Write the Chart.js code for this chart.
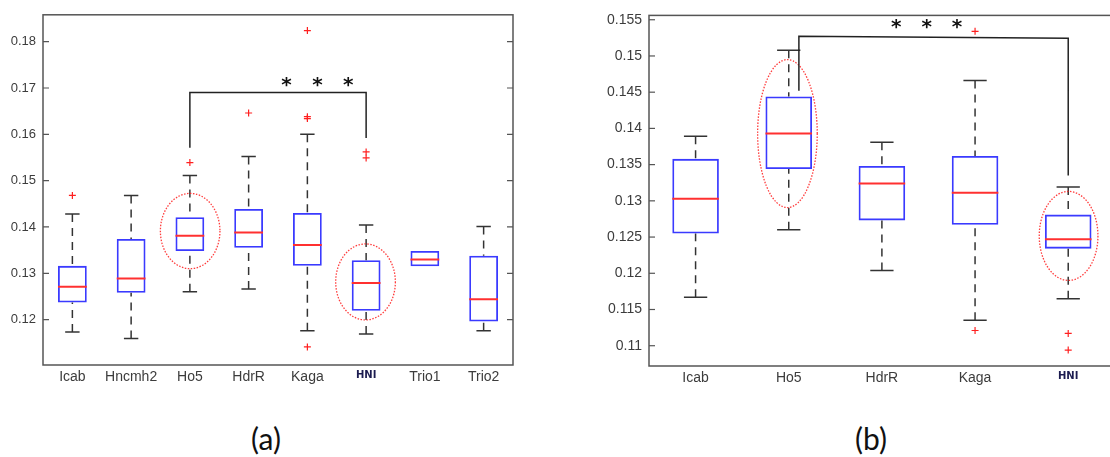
<!DOCTYPE html>
<html>
<head>
<meta charset="utf-8">
<script src="https://cdn.jsdelivr.net/npm/chart.js@4.4.0/dist/chart.umd.min.js"></script>
<style>
  html, body { margin: 0; padding: 0; background: #fff; overflow: hidden; }
  #wrap { position: relative; width: 1110px; height: 457px; overflow: hidden; }
  canvas { position: absolute; top: 0; }
  #chartA { left: 0; }
  #chartB { left: 600px; }
  .tag { position: absolute; top: 423px; width: 100px; text-align: center;
         font-family: Lato, "Open Sans", sans-serif; font-size: 30px; line-height: 30px; color: #111; }
</style>
</head>
<body>
<div id="wrap">
  <canvas id="chartA" width="520" height="400"></canvas>
  <canvas id="chartB" width="520" height="400"></canvas>
  <div class="tag" style="left:216px">(a)</div>
  <div class="tag" style="left:821px">(b)</div>
</div>
<script>
// panel (a)
const catsA = ["Icab", "Hncmh2", "Ho5", "HdrR", "Kaga", "HNI", "Trio1", "Trio2"];
const loA  = [0.1173, 0.1159, 0.1260, 0.1266, 0.1176, 0.1169, 0.1315, 0.1176];
const q1A  = [0.1237, 0.1258, 0.1348, 0.1355, 0.1316, 0.1219, 0.1315, 0.1196];
const medA = [0.1271, 0.1289, 0.1381, 0.1388, 0.1361, 0.1279, 0.1330, 0.1244];
const q3A  = [0.1316, 0.1374, 0.1421, 0.1439, 0.1430, 0.1328, 0.1348, 0.1338];
const hiA  = [0.1428, 0.1468, 0.1511, 0.1552, 0.1600, 0.1404, 0.1348, 0.1401];
const outA = [["Icab", 0.1468], ["Ho5", 0.1539], ["HdrR", 0.1646], ["Kaga", 0.1824],
              ["Kaga", 0.1638], ["Kaga", 0.1634], ["Kaga", 0.1141], ["HNI", 0.1562], ["HNI", 0.1549]];
const ticksA = [0.12, 0.13, 0.14, 0.15, 0.16, 0.17, 0.18];

// panel (b)
const catsB = ["Icab", "Ho5", "HdrR", "Kaga", "HNI"];
const loB  = [0.1167, 0.1260, 0.1204, 0.1135, 0.1165];
const q1B  = [0.1255, 0.1344, 0.1273, 0.1267, 0.1234];
const medB = [0.1303, 0.1393, 0.1324, 0.1311, 0.1247];
const q3B  = [0.1358, 0.1444, 0.1348, 0.1362, 0.1281];
const hiB  = [0.1389, 0.1508, 0.1381, 0.1466, 0.1319];
const outB = [["Kaga", 0.1534], ["Kaga", 0.1121], ["HNI", 0.1117], ["HNI", 0.1094]];
const ticksB = [0.11, 0.115, 0.12, 0.125, 0.13, 0.135, 0.14, 0.145, 0.15, 0.155];

// significance bracket: [x from, x to] in category index, [y left, y top left, y top right, y right]
const bracketA = { x: [2, 5], y: [0.1571, 0.1690, 0.1690, 0.1592], stars: [3.646, 4.173, 4.694], starY: 0.1714 };
const bracketB = { x: [1.109, 4], y: [0.1452, 0.15273, 0.15245, 0.1335], stars: [2.155, 2.48, 2.806], starY: 0.15441 };
// dotted ellipses: [category index, half width (index units), low, high]
const ringsA = [[2.005, 0.507, 0.13099, 0.14725], [4.99, 0.508, 0.11993, 0.13634]];
const ringsB = [[0.986, 0.32, 0.12907, 0.1495], [4.004, 0.315, 0.11901, 0.1313]];

const boxPlugin = {
  id: "boxPlugin",
  afterDatasetsDraw(chart) {
    const o = chart.options.plugins.boxPlugin;
    const { ctx, chartArea: a, scales: { x, y } } = chart;
    const meta = chart.getDatasetMeta(0);
    ctx.save();
    ctx.beginPath();
    ctx.rect(a.left, a.top, a.right - a.left, a.bottom - a.top);
    ctx.clip();
    meta.data.forEach((bar, i) => {
      const cx = bar.x, hw = bar.width / 4;
      const pLo = y.getPixelForValue(o.lo[i]), pHi = y.getPixelForValue(o.hi[i]);
      const pQ1 = y.getPixelForValue(o.q1[i]), pQ3 = y.getPixelForValue(o.q3[i]);
      const pMed = y.getPixelForValue(o.med[i]);
      ctx.strokeStyle = "#333";
      ctx.lineWidth = 1.5;
      if (o.hi[i] > o.q3[i]) {
        ctx.setLineDash([8, 6]);
        ctx.beginPath(); ctx.moveTo(cx, pHi); ctx.lineTo(cx, pQ3); ctx.stroke();
        ctx.setLineDash([]);
        ctx.beginPath(); ctx.moveTo(cx - hw, pHi); ctx.lineTo(cx + hw, pHi); ctx.stroke();
      }
      if (o.lo[i] < o.q1[i]) {
        ctx.setLineDash([8, 6]);
        ctx.beginPath(); ctx.moveTo(cx, pLo); ctx.lineTo(cx, pQ1); ctx.stroke();
        ctx.setLineDash([]);
        ctx.beginPath(); ctx.moveTo(cx - hw, pLo); ctx.lineTo(cx + hw, pLo); ctx.stroke();
      }
      ctx.strokeStyle = "#ff3030";
      ctx.lineWidth = 2;
      ctx.beginPath(); ctx.moveTo(cx - bar.width / 2, pMed); ctx.lineTo(cx + bar.width / 2, pMed); ctx.stroke();
    });

    // ellipses
    ctx.strokeStyle = "rgba(255,40,40,0.9)";
    ctx.lineWidth = 1.3;
    ctx.setLineDash([1.5, 1.5]);
    o.rings.forEach(([c, hw, lo, hi]) => {
      const cx = x.getPixelForValue(c);
      const rx = x.getPixelForValue(c + hw) - cx;
      const top = y.getPixelForValue(hi), bot = y.getPixelForValue(lo);
      ctx.beginPath();
      ctx.ellipse(cx, (top + bot) / 2, rx, (bot - top) / 2, 0, 0, Math.PI * 2);
      ctx.stroke();
    });
    ctx.setLineDash([]);

    // bracket and stars
    const b = o.bracket;
    const x1 = x.getPixelForValue(b.x[0]), x2 = x.getPixelForValue(b.x[1]);
    ctx.strokeStyle = "#222";
    ctx.lineWidth = 1.5;
    ctx.beginPath();
    ctx.moveTo(x1, y.getPixelForValue(b.y[0]));
    ctx.lineTo(x1, y.getPixelForValue(b.y[1]));
    ctx.lineTo(x2, y.getPixelForValue(b.y[2]));
    ctx.lineTo(x2, y.getPixelForValue(b.y[3]));
    ctx.stroke();
    ctx.fillStyle = "#111";
    ctx.font = 'bold 20px "DejaVu Sans"';
    ctx.textAlign = "center";
    ctx.textBaseline = "alphabetic";
    const m = ctx.measureText("*");
    const shift = (m.actualBoundingBoxAscent - m.actualBoundingBoxDescent) / 2;
    b.stars.forEach(s => {
      ctx.fillText("*", x.getPixelForValue(s), y.getPixelForValue(b.starY) + shift);
    });
    ctx.restore();
  },
  afterDraw(chart) {
    const o = chart.options.plugins.boxPlugin;
    const { ctx, chartArea: a, scales: { y } } = chart;
    ctx.save();
    ctx.strokeStyle = "#555";
    ctx.lineWidth = 1.5;
    ctx.strokeRect(a.left, a.top, a.right - a.left, a.bottom - a.top);
    ctx.lineWidth = 1.2;
    y.ticks.forEach(t => {
      const py = y.getPixelForValue(t.value);
      ctx.beginPath();
      ctx.moveTo(a.left, py); ctx.lineTo(a.left + 6, py);
      if (o.rightTicks) { ctx.moveTo(a.right, py); ctx.lineTo(a.right - 6, py); }
      ctx.stroke();
    });
    ctx.restore();
  }
};

function makeChart(id, cats, lo, q1, med, q3, hi, outs, ticks, range, box) {
  new Chart(document.getElementById(id), {
    type: "bar",
    data: {
      labels: cats,
      datasets: [
        {
          data: cats.map((c, i) => [q1[i], q3[i]]),
          backgroundColor: "rgba(0,0,0,0)",
          borderColor: "#3a3aff",
          borderWidth: 1.8,
          borderSkipped: false,
          barPercentage: box.bar,
          categoryPercentage: 1,
        },
        {
          type: "line",
          data: outs.map(([c, v]) => ({ x: c, y: v })),
          showLine: false,
          pointStyle: "cross",
          pointRadius: 3.5,
          borderColor: "#ff2020",
          borderWidth: 1.2,
          backgroundColor: "rgba(0,0,0,0)",
        },
      ],
    },
    options: {
      responsive: false,
      animation: false,
      layout: { padding: { top: box.top, right: box.right, left: 0, bottom: 0 } },
      plugins: {
        legend: { display: false },
        tooltip: { enabled: false },
        boxPlugin: { lo, q1, med, q3, hi, rings: box.rings, bracket: box.bracket, rightTicks: box.rightTicks },
      },
      scales: {
        x: {
          grid: { display: false, drawTicks: false },
          border: { display: false },
          afterFit: s => { s.height = box.xh; },
          ticks: {
            padding: 4,
            autoSkip: false,
            maxRotation: 0,
            color: c => (cats[c.index] === "HNI" ? "#1c1c50" : "#3c3c3c"),
            font: c => (cats[c.index] === "HNI"
              ? { family: '"DejaVu Sans"', size: 10, weight: "bold" }
              : { family: '"Liberation Sans", Arial, sans-serif', size: 14 }),
          },
        },
        y: {
          min: range[0],
          max: range[1],
          grid: { display: false, drawTicks: false },
          border: { display: false },
          afterFit: s => { s.width = box.yw; },
          afterBuildTicks: s => { s.ticks = ticks.map(v => ({ value: v })); },
          ticks: {
            padding: 7,
            color: "#3c3c3c",
            font: { family: '"Liberation Sans", Arial, sans-serif', size: box.yfont },
            callback: v => String(+Number(v).toFixed(3)),
          },
        },
      },
    },
    plugins: [boxPlugin],
  });
}

makeChart("chartA", catsA, loA, q1A, medA, q3A, hiA, outA, ticksA, [0.1102, 0.1858],
  { bar: 0.49, top: 12, right: 7, xh: 35, yw: 43, yfont: 13, rings: ringsA, bracket: bracketA, rightTicks: true });
makeChart("chartB", catsB, loB, q1B, medB, q3B, hiB, outB, ticksB, [0.1072, 0.1556],
  { bar: 0.5, top: 11, right: 3, xh: 34, yw: 49, yfont: 14, rings: ringsB, bracket: bracketB, rightTicks: false });
</script>
</body>
</html>
